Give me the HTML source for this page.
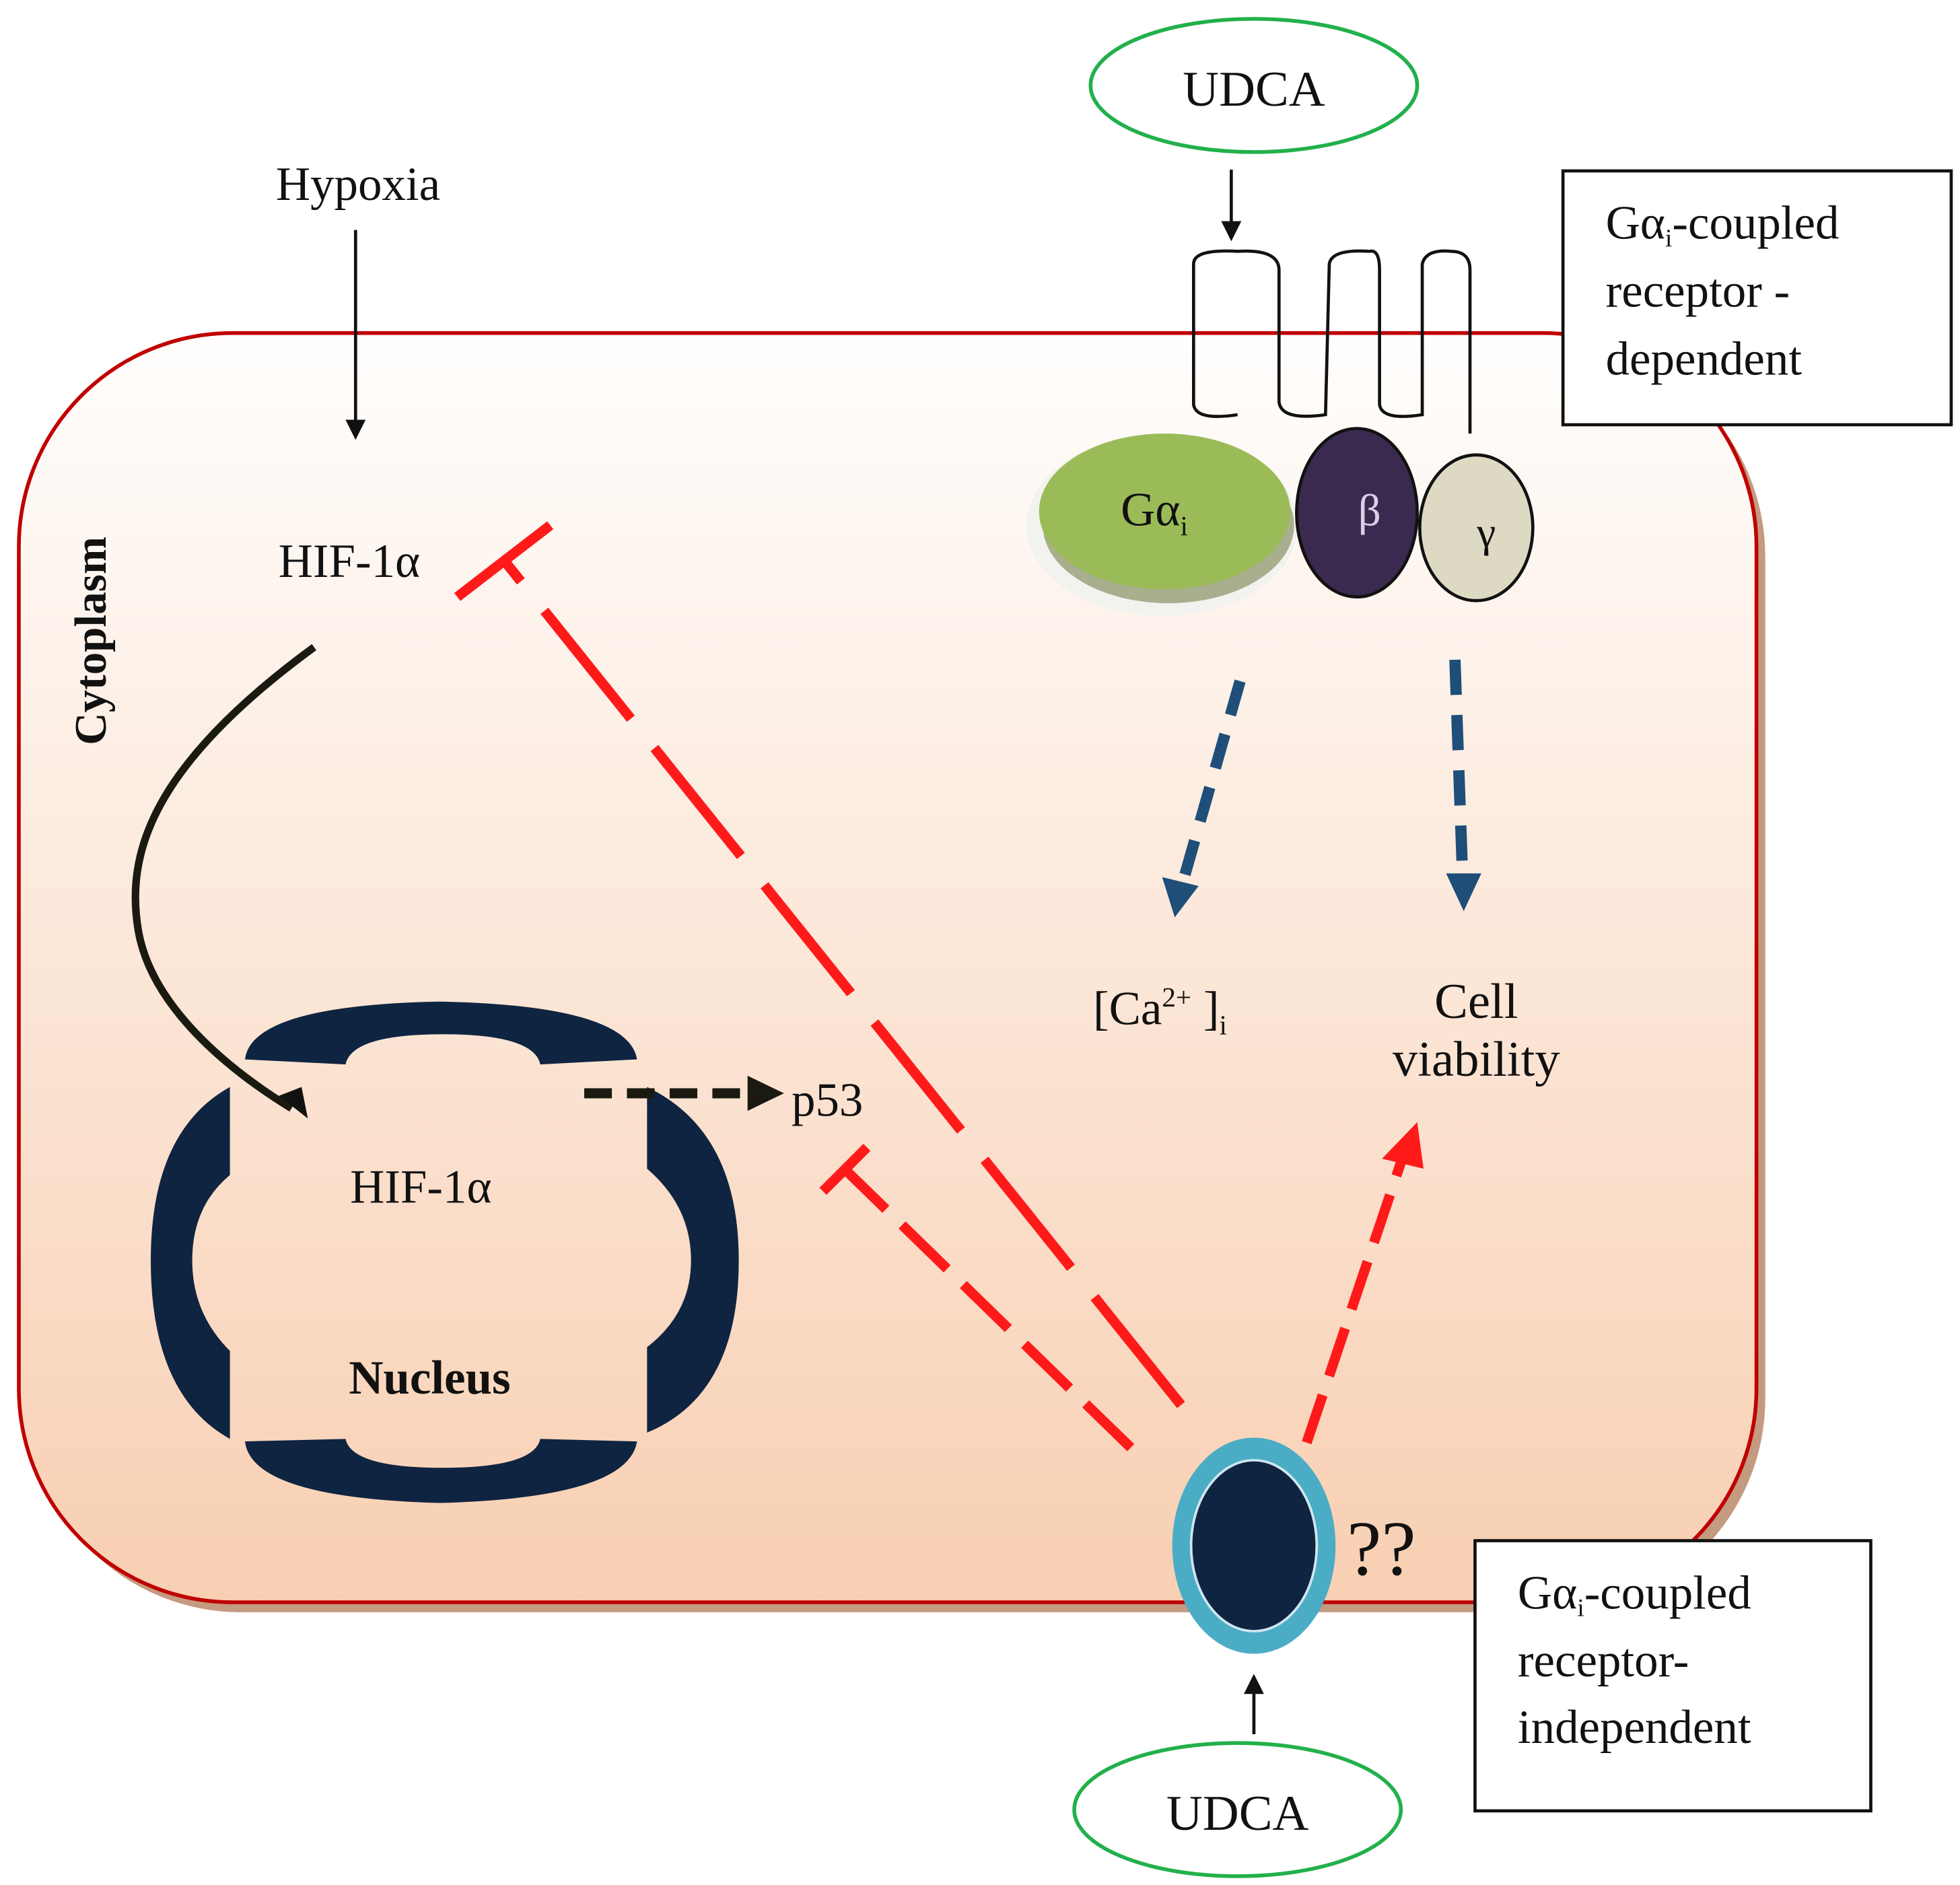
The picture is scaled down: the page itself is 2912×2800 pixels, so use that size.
<!DOCTYPE html>
<html><head><meta charset="utf-8"><style>
html,body{margin:0;padding:0;background:#fff;}
svg{display:block;}
text{font-family:"Liberation Serif",serif;fill:#111;}
</style></head><body>
<svg width="2912" height="2800" viewBox="0 0 1560 1500" xmlns="http://www.w3.org/2000/svg">
<defs>
<linearGradient id="cg" x1="0" y1="0" x2="0" y2="1">
<stop offset="0" stop-color="#fffefd"/><stop offset="1" stop-color="#f8cfb2"/></linearGradient>
<marker id="ab" markerWidth="16" markerHeight="16" refX="10" refY="8" orient="auto" markerUnits="userSpaceOnUse" viewBox="0 0 16 16"><path d="M0,0 L16,8 L0,16 Z" fill="#111"/></marker>
</defs>
<rect x="22" y="273" width="1383" height="1010" rx="170" fill="#c49a80"/>
<rect x="15" y="265" width="1383" height="1010" rx="170" fill="url(#cg)" stroke="#c00000" stroke-width="3"/>
<rect x="1244" y="136" width="309" height="202" fill="#fff" stroke="#111" stroke-width="2.5"/>
<text x="1278" y="190" font-size="38">Gα<tspan font-size="20" dy="6">i</tspan><tspan dy="-6">-coupled</tspan></text>
<text x="1278" y="244" font-size="38">receptor -</text>
<text x="1278" y="298" font-size="38">dependent</text>
<rect x="1174" y="1226" width="315" height="215" fill="#fff" stroke="#111" stroke-width="2.5"/>
<text x="1208" y="1280" font-size="38">Gα<tspan font-size="20" dy="6">i</tspan><tspan dy="-6">-coupled</tspan></text>
<text x="1208" y="1334" font-size="38">receptor-</text>
<text x="1208" y="1387" font-size="38">independent</text>
<ellipse cx="998" cy="68" rx="130" ry="53" fill="#fff" stroke="#22b04b" stroke-width="3"/>
<text x="998" y="84" font-size="40" text-anchor="middle">UDCA</text>
<ellipse cx="985" cy="1440" rx="130" ry="53" fill="#fff" stroke="#22b04b" stroke-width="3"/>
<text x="985" y="1456" font-size="40" text-anchor="middle">UDCA</text>
<g stroke="#111" stroke-width="2.5">
<line x1="980" y1="135" x2="980" y2="186" marker-end="url(#ab)"/>
<line x1="998" y1="1380" x2="998" y2="1338" marker-end="url(#ab)"/>
<line x1="283" y1="183" x2="283" y2="344" marker-end="url(#ab)"/>
</g>
<path d="M950,268 L950,210 Q950,198 985,200 Q1018,198 1018,215 L1018,320 Q1020,335 1055,330 L1058,210 Q1060,198 1090,200 Q1098,198 1098,215 L1098,322 Q1100,335 1132,330 L1132,210 Q1135,198 1155,200 Q1170,200 1170,215 L1170,345 M950,268 L950,322 Q952,335 985,330" fill="none" stroke="#111" stroke-width="2.5"/>
<ellipse cx="925" cy="418" rx="108" ry="72" fill="#f2f2ee" />
<ellipse cx="930" cy="418" rx="100" ry="62" fill="#a9ae8e"/>
<ellipse cx="927" cy="407" rx="100" ry="62" fill="#9bbb59"/>
<text x="892" y="418" font-size="38">Gα<tspan font-size="22" dy="8">i</tspan></text>
<ellipse cx="1080" cy="408" rx="48" ry="67" fill="#3b2a4f" stroke="#111" stroke-width="2.5"/>
<text x="1090" y="418" font-size="36" text-anchor="middle" style="fill:#d9d0e8">β</text>
<ellipse cx="1175" cy="420" rx="45" ry="58" fill="#ddd9c3" stroke="#111" stroke-width="2.5"/>
<text x="1183" y="435" font-size="34" text-anchor="middle">γ</text>
<g stroke="#1f4e79" stroke-width="9" stroke-dasharray="28,16" fill="none">
<line x1="987" y1="542" x2="942" y2="700"/>
<line x1="1158" y1="525" x2="1164" y2="695"/>
</g>
<path d="M925,698 L954,705 L935,730 Z" fill="#1f4e79"/>
<path d="M1151,695 L1179,695 L1165,725 Z" fill="#1f4e79"/>
<text x="870" y="815" font-size="38">[Ca<tspan font-size="22" dy="-14">2+</tspan><tspan dy="14"> ]</tspan><tspan font-size="22" dy="8">i</tspan></text>
<text x="1175" y="810" font-size="40" text-anchor="middle">Cell</text>
<text x="1175" y="856" font-size="40" text-anchor="middle">viability</text>
<text x="285" y="159" font-size="38" text-anchor="middle">Hypoxia</text>
<text x="278" y="459" font-size="38" text-anchor="middle">HIF-1α</text>
<text transform="translate(84,510) rotate(-90)" font-size="36" font-weight="bold" text-anchor="middle">Cytoplasm</text>
<path d="M250,515 C120,610 100,680 110,740 C120,800 180,850 232,882" fill="none" stroke="#1a1a10" stroke-width="6"/>
<path d="M222,872 L245,890 L240,865 Z" fill="#111"/>
<g fill="#0f2440">
<path d="M195,843 Q200,800 350,797 Q500,800 507,843 L430,847 Q425,823 352,823 Q280,823 275,847 Z"/>
<path d="M195,1147 Q200,1192 350,1196 Q500,1192 507,1147 L430,1145 Q425,1168 352,1168 Q280,1168 275,1145 Z"/>
<path d="M183,865 Q120,900 120,1003 Q120,1110 183,1145 L183,1075 Q153,1045 153,1003 Q153,960 183,935 Z"/>
<path d="M515,865 Q588,900 588,1003 Q588,1110 515,1140 L515,1072 Q550,1045 550,1003 Q550,960 515,930 Z"/>
</g>
<text x="335" y="957" font-size="38" text-anchor="middle">HIF-1α</text>
<text x="342" y="1109" font-size="38" font-weight="bold" text-anchor="middle">Nucleus</text>
<line x1="465" y1="870" x2="598" y2="870" stroke="#1a1a10" stroke-width="8" stroke-dasharray="22,12"/>
<path d="M595,856 L624,870 L595,884 Z" fill="#1a1a10"/>
<text x="630" y="888" font-size="38">p53</text>
<g stroke="#ff1a1a" stroke-width="8" fill="none">
<line x1="940" y1="1118" x2="402" y2="447" stroke-dasharray="110,30"/>
<line x1="364" y1="475" x2="438" y2="418"/>
<line x1="900" y1="1152" x2="673" y2="931" stroke-dasharray="50,18"/>
<line x1="655" y1="948" x2="690" y2="913"/>
<line x1="1040" y1="1148" x2="1115" y2="925" stroke-dasharray="40,16"/>
</g>
<path d="M1100,922 L1133,930 L1128,893 Z" fill="#ff1a1a"/>
<ellipse cx="998" cy="1230" rx="65" ry="86" fill="#4bacc6"/>
<ellipse cx="998" cy="1230" rx="50" ry="68" fill="#0f2440" stroke="#cfe6ee" stroke-width="2"/>
<ellipse cx="998" cy="1230" rx="43" ry="61" fill="#0f2440"/>
<text x="1072" y="1253" font-size="62">??</text>
</svg>
</body></html>
